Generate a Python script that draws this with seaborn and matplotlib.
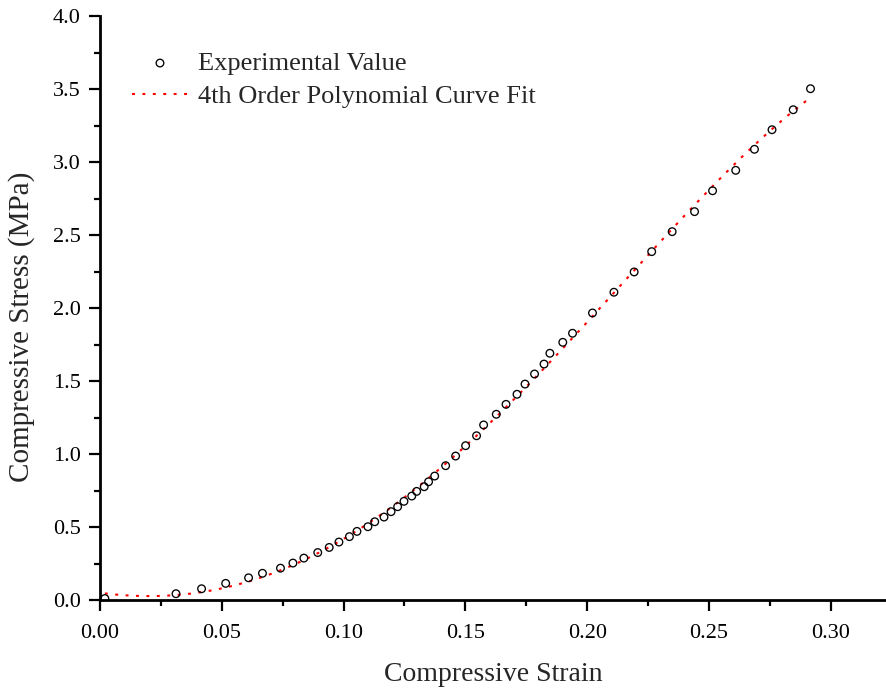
import matplotlib
matplotlib.use("Agg")
import matplotlib.pyplot as plt
import numpy as np
import pandas as pd
import seaborn as sns
from matplotlib.ticker import MultipleLocator, FormatStrFormatter

strain = [0.002, 0.0312, 0.0417, 0.0516, 0.0610, 0.0667, 0.0741, 0.0792, 0.0837,
          0.0894, 0.0941, 0.0981, 0.1024, 0.1055, 0.1100, 0.1128, 0.1166, 0.1195,
          0.1222, 0.1248, 0.1280, 0.1300, 0.1331, 0.1349, 0.1374, 0.1419, 0.1460,
          0.1501, 0.1546, 0.1575, 0.1627, 0.1667, 0.1712, 0.1745, 0.1784, 0.1823,
          0.1847, 0.1900, 0.1940, 0.2022, 0.2110, 0.2193, 0.2265, 0.2349, 0.2441,
          0.2515, 0.2610, 0.2687, 0.2759, 0.2846, 0.2917]
stress = [0.010, 0.043, 0.077, 0.114, 0.152, 0.183, 0.218, 0.253, 0.287,
          0.325, 0.360, 0.397, 0.434, 0.470, 0.502, 0.536, 0.568, 0.605,
          0.639, 0.676, 0.712, 0.744, 0.776, 0.810, 0.849, 0.920, 0.986,
          1.057, 1.125, 1.199, 1.272, 1.340, 1.409, 1.479, 1.548, 1.616,
          1.690, 1.765, 1.827, 1.966, 2.108, 2.247, 2.386, 2.523, 2.660,
          2.803, 2.943, 3.087, 3.221, 3.358, 3.502]

x_ticks = [0.00, 0.05, 0.10, 0.15, 0.20, 0.25, 0.30]
y_ticks = [0.0, 0.5, 1.0, 1.5, 2.0, 2.5, 3.0, 3.5, 4.0]

df = pd.DataFrame({"strain": strain, "stress": stress})

sns.set_style("ticks")
plt.rcParams["font.family"] = ["Liberation Serif", "DejaVu Serif"]

W, H = 886, 691
fig = plt.figure(figsize=(W / 100, H / 100), dpi=100)
ax = fig.add_axes([100 / W, 1 - 600 / H, 786 / W, 584 / H])

sns.scatterplot(data=df, x="strain", y="stress", ax=ax, marker="o",
                s=30, facecolor="none", edgecolor="black", linewidth=0.95,
                label="Experimental Value", zorder=3)
sns.regplot(data=df, x="strain", y="stress", ax=ax, order=4, ci=None,
            scatter=False, truncate=True, label="4th Order Polynomial Curve Fit",
            line_kws=dict(color="red", linewidth=1.5, linestyle=(0, (1.4, 3.6)),
                          zorder=2))

ax.set_xlim(0, 0.3227)
ax.set_ylim(0, 4.0)
ax.set_xticks(x_ticks)
ax.set_yticks(y_ticks)
ax.xaxis.set_major_formatter(FormatStrFormatter("%.2f"))
ax.yaxis.set_major_formatter(FormatStrFormatter("%.1f"))
ax.xaxis.set_minor_locator(MultipleLocator(0.025))
ax.yaxis.set_minor_locator(MultipleLocator(0.25))

for side in ["top", "right"]:
    ax.spines[side].set_visible(False)
for side in ["left", "bottom"]:
    ax.spines[side].set_linewidth(2.0)
    ax.spines[side].set_color("black")
    ax.spines[side].set_zorder(4)

ax.tick_params(which="major", direction="out", length=8, width=1.6,
               labelsize=16, pad=6, colors="black")
ax.tick_params(axis="x", which="major", pad=9)
ax.tick_params(which="minor", direction="out", length=4, width=1.6, colors="black")

ax.set_xlabel("Compressive Strain", fontsize=20, labelpad=14)
ax.set_ylabel("Compressive Stress (MPa)", fontsize=21)
ax.yaxis.set_label_coords(-0.083, 0.4675)

leg = ax.legend(loc="upper left", bbox_to_anchor=(132 / W, 1 - 51.5 / H),
                bbox_transform=fig.transFigure,
                frameon=False, fontsize=19, handlelength=2.12, handletextpad=0.38,
                labelspacing=0.36, borderpad=0, borderaxespad=0)

fig.savefig("out.png", dpi=100)
